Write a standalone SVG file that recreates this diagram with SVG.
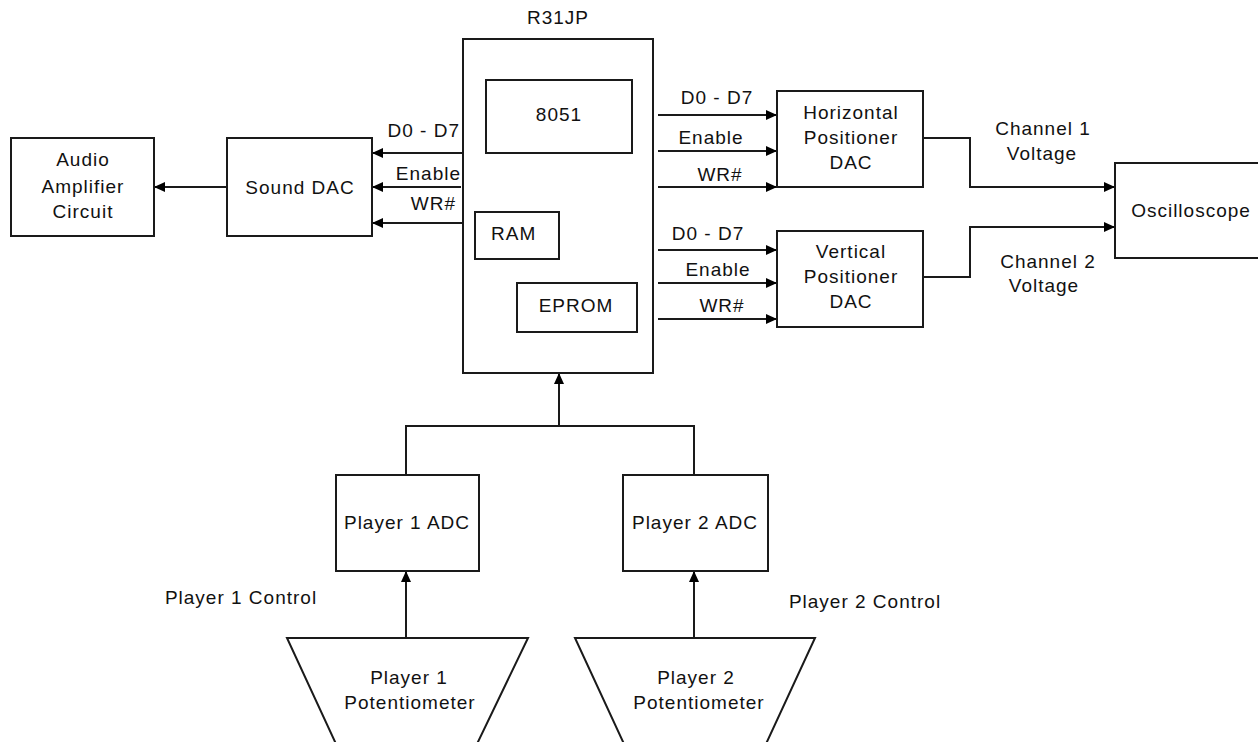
<svg xmlns="http://www.w3.org/2000/svg" width="1258" height="742" viewBox="0 0 1258 742">
<defs>
<marker id="ah" markerUnits="userSpaceOnUse" markerWidth="11" markerHeight="10" refX="11" refY="5" orient="auto">
<path d="M0,0 L11,5 L0,10 z" fill="#000"/>
</marker>
<style>
.box{fill:#fff;stroke:#1a1a1a;stroke-width:2}
.ln{fill:none;stroke:#1a1a1a;stroke-width:2}
.ar{fill:none;stroke:#1a1a1a;stroke-width:2;marker-end:url(#ah)}
text{font-family:"Liberation Sans",Arial,sans-serif;font-size:19px;fill:#111;letter-spacing:1px}
.m{text-anchor:middle}
.e{text-anchor:end}
</style>
</defs>
<rect width="1258" height="742" fill="#fff"/>
<g id="connectors">
<path class="ar" d="M227,187 H154"/>
<path class="ar" d="M467,153 H372"/>
<path class="ar" d="M461,187 H372"/>
<path class="ar" d="M467,223 H372"/>
<path class="ar" d="M658,115 H777"/>
<path class="ar" d="M658,151 H777"/>
<path class="ar" d="M658,187 H777"/>
<path class="ar" d="M658,250 H777"/>
<path class="ar" d="M658,283 H777"/>
<path class="ar" d="M658,319 H777"/>
<path class="ar" d="M923,138 H970 V187 H1115"/>
<path class="ar" d="M923,277 H970 V227 H1115"/>
<path class="ln" d="M406,475 V426 H694 V475"/>
<path class="ar" d="M559,426 V373"/>
<path class="ar" d="M406,638 V571"/>
<path class="ar" d="M694,638 V571"/>
<text x="460" y="137" class="e">D0 - D7</text>
<text x="461" y="180" class="e">Enable</text>
<text x="456" y="210" class="e">WR#</text>
<text x="717" y="104" class="m">D0 - D7</text>
<text x="711" y="144" class="m">Enable</text>
<text x="720" y="181" class="m">WR#</text>
<text x="708" y="240" class="m">D0 - D7</text>
<text x="718" y="276" class="m">Enable</text>
<text x="722" y="312" class="m">WR#</text>
<text x="1043" y="135" class="m">Channel 1</text>
<text x="1042" y="160" class="m">Voltage</text>
<text x="1048" y="268" class="m">Channel 2</text>
<text x="1044" y="292" class="m">Voltage</text>
<text x="241" y="604" class="m">Player 1 Control</text>
<text x="865" y="608" class="m">Player 2 Control</text>
</g>
<g id="audio">
<rect class="box" x="11" y="138" width="143" height="98"/>
<text x="83" y="166" class="m">Audio</text>
<text x="83" y="193" class="m">Amplifier</text>
<text x="83" y="218" class="m">Circuit</text>
</g>
<g id="sounddac">
<rect class="box" x="227" y="138" width="145" height="98"/>
<text x="300" y="194" class="m">Sound DAC</text>
</g>
<g id="r31jp">
<text x="558" y="24" class="m">R31JP</text>
<rect class="box" x="463" y="39" width="190" height="334"/>
</g>
<g id="c8051">
<rect class="box" x="486" y="80" width="146" height="73"/>
<text x="559" y="121" class="m">8051</text>
</g>
<g id="ram">
<rect class="box" x="475" y="212" width="84" height="47"/>
<text x="491" y="240">RAM</text>
</g>
<g id="eprom">
<rect class="box" x="517" y="283" width="120" height="49"/>
<text x="576" y="312" class="m">EPROM</text>
</g>
<g id="hdac">
<rect class="box" x="777" y="91" width="146" height="96"/>
<text x="851" y="119" class="m">Horizontal</text>
<text x="851" y="144" class="m">Positioner</text>
<text x="851" y="169" class="m">DAC</text>
</g>
<g id="vdac">
<rect class="box" x="777" y="231" width="146" height="96"/>
<text x="851" y="258" class="m">Vertical</text>
<text x="851" y="283" class="m">Positioner</text>
<text x="851" y="308" class="m">DAC</text>
</g>
<g id="osc">
<rect class="box" x="1115" y="163" width="160" height="95"/>
<text x="1191" y="217" class="m">Oscilloscope</text>
</g>
<g id="adc1">
<rect class="box" x="336" y="475" width="143" height="96"/>
<text x="407" y="529" class="m">Player 1 ADC</text>
</g>
<g id="adc2">
<rect class="box" x="623" y="475" width="145" height="96"/>
<text x="695" y="529" class="m">Player 2 ADC</text>
</g>
<g id="pot1">
<path class="box" d="M336.5,745 L287,638 H528 L476.5,745"/>
<text x="409" y="684" class="m">Player 1</text>
<text x="410" y="709" class="m">Potentiometer</text>
</g>
<g id="pot2">
<path class="box" d="M624.5,745 L575,638 H815 L765.5,745"/>
<text x="696" y="684" class="m">Player 2</text>
<text x="699" y="709" class="m">Potentiometer</text>
</g>
</svg>
